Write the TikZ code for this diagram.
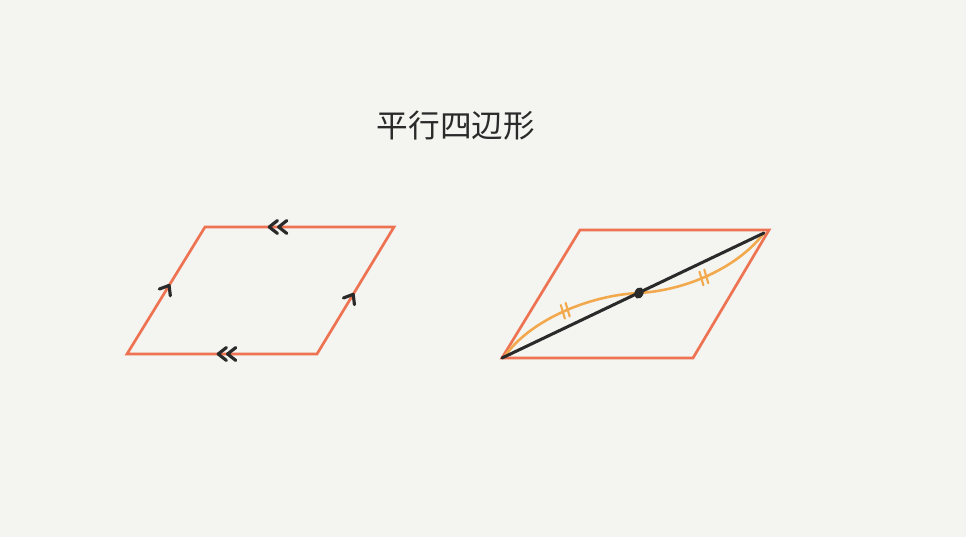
\documentclass[tikz,border=0pt]{standalone}
\usepackage{fontspec}
\newfontfamily\jpfont{Noto Sans CJK JP}
\usetikzlibrary{decorations.markings}
\definecolor{paper}{HTML}{F4F4F0}
\definecolor{edge}{HTML}{EE7352}
\definecolor{curve}{HTML}{F2A94E}
\definecolor{ink}{HTML}{2A2A2A}
\tikzstyle{side} = [draw=edge, line width=2.3pt, line join=miter]
\tikzstyle{chev} = [draw=ink, line width=2.7pt, line cap=round, line join=round]
\tikzstyle{half} = [draw=curve, line width=2.2pt, line cap=round]
\tikzstyle{diag} = [draw=ink, line width=2.6pt, line cap=round]
\tikzset{
  one/.style={postaction={decorate}, decoration={markings,
    mark=at position #1 with {\draw[chev] (-7pt,-5.5pt) -- (0,0) -- (-7pt,5.5pt);}}},
  two/.style={postaction={decorate}, decoration={markings,
    mark=at position #1 with {\draw[chev] (-7pt,-5.5pt) -- (0,0) -- (-7pt,5.5pt);
      \draw[chev] (-15pt,-5.5pt) -- (-8pt,0) -- (-15pt,5.5pt);}}},
  ticks/.style={postaction={decorate}, decoration={markings,
    mark=at position #1 with {\draw[half, line width=1.8pt] (-3pt,-6pt) -- (-1.5pt,6pt);
      \draw[half, line width=1.8pt] (1.5pt,-6pt) -- (3pt,6pt);}}}
}

\begin{document}
\begin{tikzpicture}[x=0.03cm, y=-0.03cm]

\fill[paper] (0,0) rectangle (966,537);
\useasboundingbox (0,0) rectangle (966,537);

\node (title) [text=ink, font=\jpfont\fontsize{27}{27}\selectfont] at (456,126) {平行四辺形};

% left parallelogram
\coordinate (a1) at (127,354);
\coordinate (a2) at (317,354);
\coordinate (a3) at (394,227);
\coordinate (a4) at (205,227);
\draw[side] (a1) -- (a2) -- (a3) -- (a4) -- cycle;
\path[one=0.54] (a1) -- (a4);
\path[one=0.47] (a2) -- (a3);
\path[two=0.66] (a3) -- (a4);
\path[two=0.52] (a2) -- (a1);

% right parallelogram
\coordinate (b1) at (502,358);
\coordinate (b2) at (693,358);
\coordinate (b3) at (769,230);
\coordinate (b4) at (580,230);
\coordinate (tip) at (764,233);
\coordinate (mid) at (639,293);
\draw[side] (b1) -- (b2) -- (b3) -- (b4) -- cycle;
\draw[half, ticks=0.5] (505,356) .. controls (530,320) and (590,295) .. (mid);
\draw[half, ticks=0.47] (mid) .. controls (690,290) and (740,265) .. (tip);
\draw[diag] (b1) -- (tip);
\fill[ink, rotate around={-25:(mid)}] (mid) ellipse (3.8pt and 5pt);

\end{tikzpicture}
\end{document}
